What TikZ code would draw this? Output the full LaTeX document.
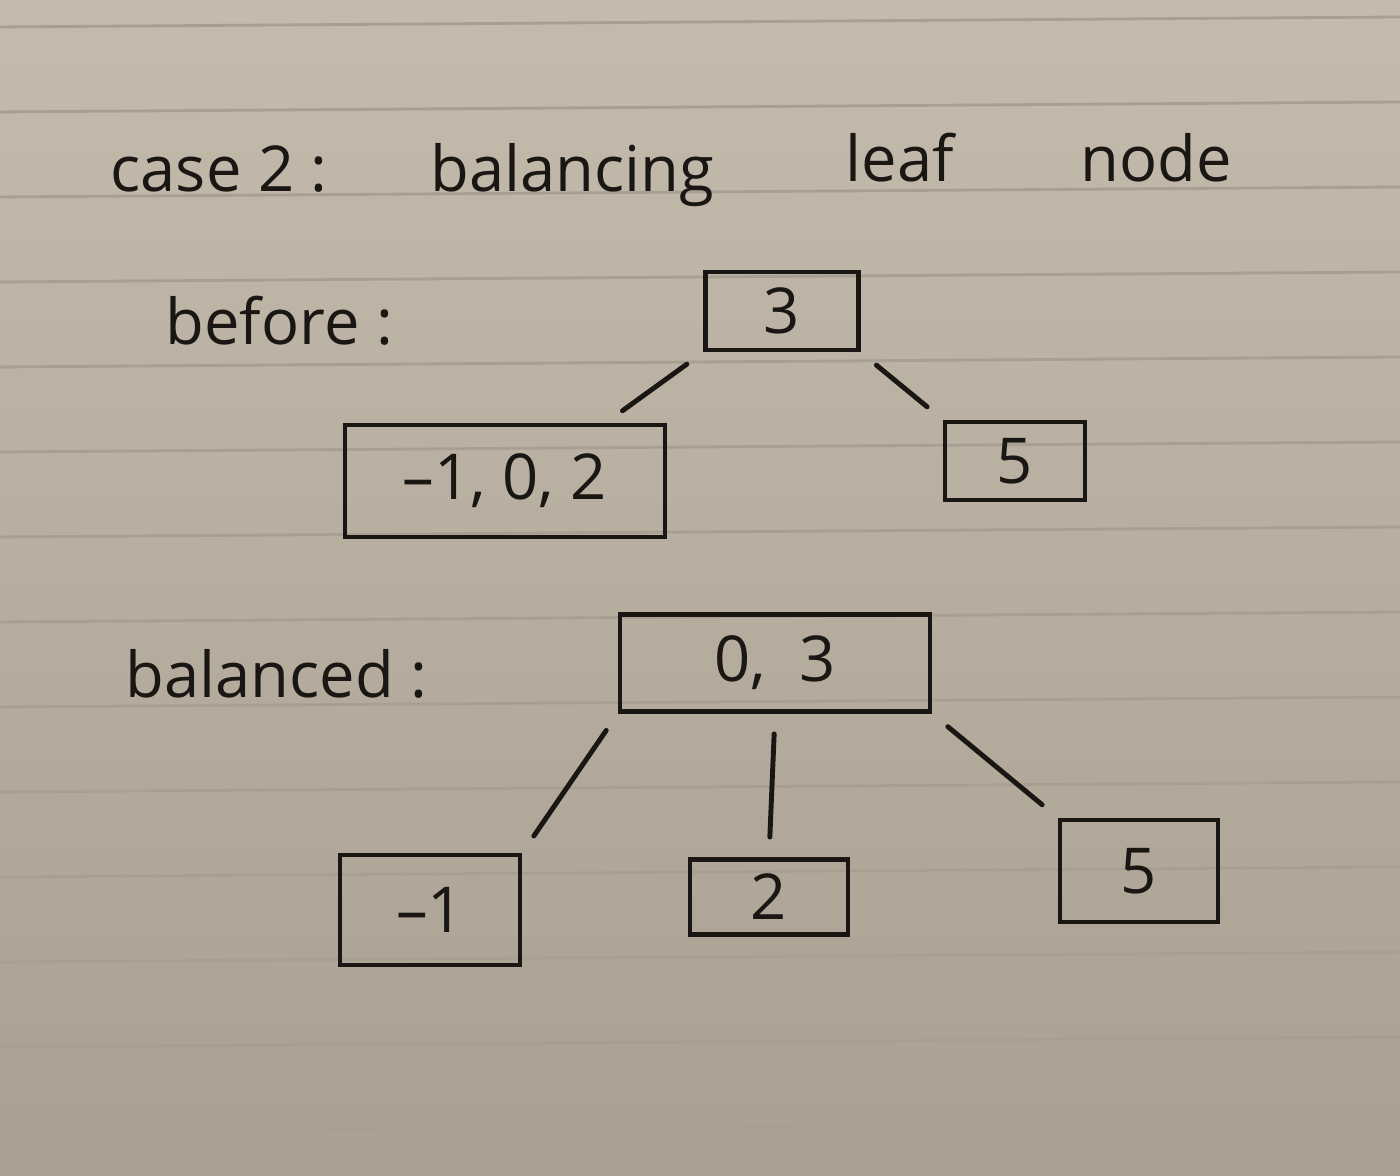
\documentclass[tikz,border=0pt]{standalone}
\usepackage{fontspec}
\setmainfont{Open Sans}
\usepackage{xcolor}
\definecolor{PaperTop}{RGB}{196,187,172}
\definecolor{PaperBottom}{RGB}{170,160,146}
\definecolor{RuleGrey}{RGB}{168,158,146}
\definecolor{InkBlack}{RGB}{25,22,20}
\usepackage{tikz}

\begin{document}
\begin{tikzpicture}[
    keybox/.style={draw=InkBlack, line width=1.4pt, inner sep=0pt,
        text=InkBlack, font=\fontsize{18}{22}\selectfont},
    label/.style={anchor=base west, inner sep=0pt, text=InkBlack,
        font=\fontsize{18}{22}\selectfont},
    link/.style={draw=InkBlack, line width=1.4pt, line cap=round,
        shorten <=0.2cm, shorten >=0.2cm}
]
    \useasboundingbox (0,0) rectangle (14,11.76);

    % Paper
    \shade[top color=PaperTop, bottom color=PaperBottom] (0,0) rectangle (14,11.76);
    \foreach \i in {0,...,13}
        \draw[RuleGrey, line width=0.8pt] (0,11.49-0.85*\i) -- (14,11.59-0.85*\i);

    % Title
    \node[label] (case) at (1.10,9.84) {case 2 :};
    \node[label] (bal) at (4.30,9.84) {balancing};
    \node[label] (leaf) at (8.45,9.94) {leaf};
    \node[label] (nd) at (10.80,9.94) {node};

    % Before
    \node[label] (before) at (1.65,8.31) {before :};
    \node[keybox, minimum width=1.53cm, minimum height=0.78cm] (bRoot) at (7.82,8.65) {3};
    \node[keybox, minimum width=3.2cm, minimum height=1.12cm] (bLeft) at (5.05,6.95) {--1, 0, 2};
    \node[keybox, minimum width=1.40cm, minimum height=0.78cm] (bRight) at (10.15,7.15) {5};

    \draw[link] (bRoot.south west) -- (bLeft.30);
    \draw[link] (bRoot.south east) -- (bRight.north west);

    % Balanced
    \node[label] (balanced) at (1.25,4.78) {balanced :};
    \node[keybox, minimum width=3.1cm, minimum height=0.97cm] (aRoot) at (7.75,5.13) {0,\ \ 3};
    \node[keybox, minimum width=1.8cm, minimum height=1.1cm] (aLeft) at (4.30,2.66) {--1};
    \node[keybox, minimum width=1.58cm, minimum height=0.75cm] (aMid) at (7.69,2.79) {2};
    \node[keybox, minimum width=1.58cm, minimum height=1.02cm] (aRight) at (11.39,3.05) {5};

    \draw[link] (aRoot.south west) -- (aLeft.north east);
    \draw[link] (aRoot.south) -- (aMid.north);
    \draw[link] (aRoot.south east) -- (aRight.north west);
\end{tikzpicture}
\end{document}
